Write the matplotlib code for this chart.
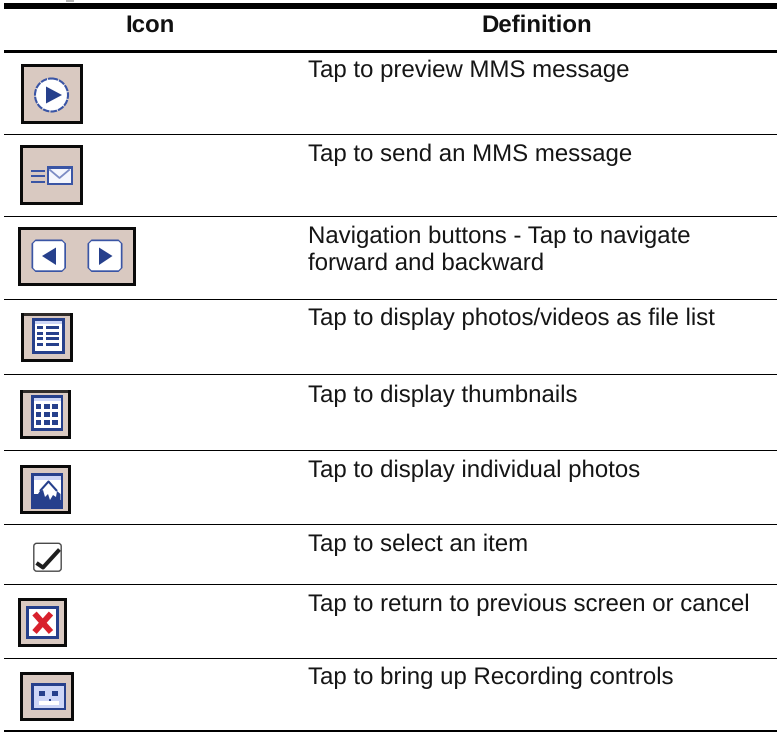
import matplotlib
matplotlib.use("Agg")
import matplotlib.pyplot as plt
from matplotlib.patches import Rectangle, Polygon, Circle, FancyBboxPatch

plt.rcParams['font.family'] = ['Liberation Sans', 'DejaVu Sans']
plt.rcParams['text.hinting'] = 'no_hinting'

# ---- content ----
headers = ["Icon", "Definition"]
definitions = [
    "Tap to preview MMS message",
    "Tap to send an MMS message",
    "Navigation buttons - Tap to navigate\nforward and backward",
    "Tap to display photos/videos as file list",
    "Tap to display thumbnails",
    "Tap to display individual photos",
    "Tap to select an item",
    "Tap to return to previous screen or cancel",
    "Tap to bring up Recording controls",
]

# ---- layout (pixels) ----
W, H = 777, 732
text_x = 308
first_baselines = [77.3, 160.7, 243.3, 325.3, 401.7, 476.7, 550.7, 610.7, 684.3]
line_gap = 26
thin_rules = [134.6, 216.2, 299.2, 374.5, 450.4, 524.5, 584.4, 658.4]
thick_rules = [(3, 9), (50, 53), (730, 732)]
frames = [(21, 64, 83, 124), (20, 145, 83, 205), (18, 227, 136, 286),
          (21, 313, 73, 362), (20, 390, 71, 439), (20, 465, 71, 514),
          (18, 598, 67, 647), (20, 672, 74, 721)]
BODY_SIZE = 17.27
HEAD_SIZE = 17.3

BEIGE = "#d9c9c1"
BLUE = "#26408c"
PALE = "#cdd6f7"
INK = "#0a0a0a"
RED = "#d8202c"

fig = plt.figure(figsize=(W / 100, H / 100), dpi=100)
ax = fig.add_axes([0, 0, 1, 1])
ax.set_xlim(0, W)
ax.set_ylim(H, 0)
ax.axis("off")


def box(x0, y0, x1, y1, color, z=2):
    ax.add_patch(Rectangle((x0, y0), x1 - x0, y1 - y0, fc=color, ec="none", lw=0, zorder=z))


def poly(pts, color, z=4):
    ax.add_patch(Polygon(pts, closed=True, fc=color, ec="none", zorder=z))


# rules
box(66, 0, 74, 2, "#b5b5b5")
for y0, y1 in thick_rules:
    box(4, y0, W, y1, "black")
for y in thin_rules:
    box(4, y - 0.6, W, y + 0.6, "black")

# header
ax.text(150, 32, headers[0], ha="center", va="baseline", fontsize=HEAD_SIZE, fontweight="bold", color="#111111")
ax.text(537, 32, headers[1], ha="center", va="baseline", fontsize=HEAD_SIZE, fontweight="bold", color="#111111")

# definitions
for label, base in zip(definitions, first_baselines):
    for k, line in enumerate(label.split("\n")):
        ax.text(text_x, base + k * line_gap, line, ha="left", va="baseline",
                fontsize=BODY_SIZE, color="#151515")

# frames
for x0, y0, x1, y1 in frames:
    box(x0, y0, x1, y1, INK)
    box(x0 + 3, y0 + 3, x1 - 3, y1 - 3, BEIGE, z=3)

# 1 play
ax.add_patch(Circle((51.5, 95), 16.5, fc="white", ec="#3a55a5", lw=1.5, ls=(0, (3.2, 0.5)), zorder=4))
poly([(46, 86.5), (62, 95), (46, 103.5)], BLUE, z=5)

# 2 send
for y in (171, 176.3, 182):
    box(31, y - 1.1, 44.5, y + 1.1, "#3a55a5", z=4)
box(47, 166, 72.5, 185, "#3a55a5", z=4)
box(49, 168.5, 70.5, 183, "#f4f6fd", z=5)
ax.plot([50, 59.5, 69], [170, 178, 170], color="#7c8cc4", lw=1.3, zorder=6)

# 3 navigation
for xa, xb in ((31.5, 66), (87.5, 122.5)):
    c = 4
    poly([(xa + c, 239.5), (xb - c, 239.5), (xb, 243.5), (xb, 268), (xb - c, 272),
          (xa + c, 272), (xa, 268), (xa, 243.5)], "#3a55a5")
    i = 1.7
    poly([(xa + c, 239.5 + i), (xb - c, 239.5 + i), (xb - i, 243.5), (xb - i, 268),
          (xb - c, 272 - i), (xa + c, 272 - i), (xa + i, 268), (xa + i, 243.5)], "white", z=5)
poly([(56, 247.5), (56, 265), (42, 256)], BLUE, z=6)
poly([(99, 247.5), (99, 265), (112.5, 256)], BLUE, z=6)

# 4 list
box(32, 318, 65, 354, BLUE, z=4)
box(35, 321, 62, 351, "white", z=5)
box(35, 321, 62, 324, PALE, z=6)
for y in (327.7, 333.3, 338.3, 344.3):
    box(37, y - 1.5, 43, y + 1.5, BLUE, z=6)
    box(46, y - 1.5, 59, y + 1.5, BLUE, z=6)
box(24, 313, 70, 316, "#302c2a", z=4)

# 5 thumbnails
box(31, 395, 63, 431, BLUE, z=4)
box(33.5, 398, 60.5, 428, "white", z=5)
box(33.5, 398, 60.5, 401, PALE, z=6)
for yc0, yc1 in ((404, 408.7), (412, 417), (420, 425)):
    for xc0, xc1 in ((36, 41), (44, 50), (52, 58)):
        box(xc0, yc0, xc1, yc1, BLUE, z=6)
box(23, 390, 68, 393, "#302c2a", z=4)

# 6 photo
box(31, 473, 63, 509, BLUE, z=4)
box(33.5, 476, 60.5, 500, "white", z=5)
box(33.5, 476, 60.5, 479.5, PALE, z=6)
ax.plot([40, 48.5, 57], [491, 481.5, 491], color=BLUE, lw=1.5, zorder=6, solid_capstyle="butt")
poly([(33.5, 494), (38, 494), (40, 491), (43, 490), (45, 497), (48, 494), (50, 500), (53, 495),
      (56, 497), (57, 491), (60.5, 494), (60.5, 501), (33.5, 501)], BLUE, z=6)

# 7 check
ax.add_patch(FancyBboxPatch((35, 544.5), 25, 25.5, boxstyle="round,pad=1.2,rounding_size=3",
                            fc="white", ec="#4a4a4a", lw=1.0, zorder=4))
ax.plot([36.5, 43, 59.5], [563, 567.5, 549.5], color="#1e1e1e", lw=2.9, zorder=5, solid_capstyle="butt")

# 8 cancel
box(26, 606, 59, 639, BLUE, z=4)
box(29, 609, 56, 636, "white", z=5)
ax.plot([34.5, 51], [613.5, 632], color=RED, lw=4.2, zorder=6, solid_capstyle="butt")
ax.plot([51, 34.5], [613.5, 632], color=RED, lw=4.2, zorder=6, solid_capstyle="butt")

# 9 recording
box(31, 683, 66, 710, BLUE, z=4)
box(33.5, 685.5, 63.5, 707.5, PALE, z=5)
box(39, 691, 44.5, 696, BLUE, z=6)
box(52, 691, 58, 696, BLUE, z=6)
box(39, 701, 59, 705, "white", z=6)
box(49, 698.5, 51, 700.5, BLUE, z=6)

fig.savefig("out.png", dpi=100, facecolor="white")
